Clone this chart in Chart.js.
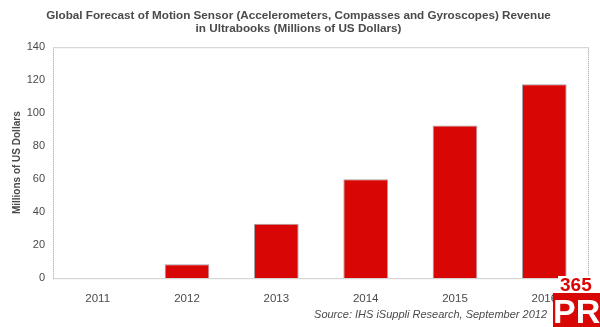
<!DOCTYPE html>
<html>
<head>
<meta charset="utf-8">
<script src="https://cdn.jsdelivr.net/npm/chart.js@4/dist/chart.umd.min.js"></script>
<style>
  html, body { margin: 0; padding: 0; background: #fff; }
  #wrap { position: relative; width: 600px; height: 327px; }
  #logo {
    position: absolute; left: 553px; top: 276px; width: 47px; height: 51px;
    font-family: "Liberation Sans", Arial, sans-serif; font-weight: bold;
  }
  #logo .n { position: absolute; left: 5px; top: 0; color: #d90606; font-size: 19px; line-height: 18px; background: #fff; padding: 0 2px; }
  #logo .p { position: absolute; left: 0; top: 17px; width: 47px; height: 34px; background: #d90606; color: #fff; font-size: 34px; line-height: 36px; text-align: center; }
</style>
</head>
<body>
<div id="wrap">
  <canvas id="c" width="600" height="327"></canvas>
  <div id="logo"><span class="n">365</span><div class="p">PR</div></div>
</div>
<script>
const years = ['2011', '2012', '2013', '2014', '2015', '2016'];
const revenue = [0, 8.4, 33, 60, 92.5, 117.5];
const yTicks = [0, 20, 40, 60, 80, 100, 120, 140];
const source = 'Source: IHS iSuppli Research, September 2012';

const FONT = '"Liberation Sans", Arial, sans-serif';

// dotted frame round the plot area plus the source line under the axis
const frame = {
  id: 'frame',
  afterDatasetsDraw(chart) {
    const a = chart.chartArea;
    const ctx = chart.ctx;
    ctx.save();
    ctx.strokeStyle = '#9a9a9a';
    ctx.lineWidth = 1;
    ctx.setLineDash([1, 1]);
    ctx.strokeRect(a.left + 0.5, a.top + 0.5, a.right - a.left - 1, a.bottom - a.top);
    ctx.setLineDash([]);
    ctx.font = 'italic 11px ' + FONT;
    ctx.fillStyle = '#4a4a4a';
    ctx.textAlign = 'right';
    ctx.textBaseline = 'middle';
    ctx.fillText(source, a.right - 42, a.bottom + 37);
    ctx.restore();
  }
};

Chart.defaults.font.family = FONT;
Chart.defaults.color = '#4a4a4a';

new Chart(document.getElementById('c').getContext('2d'), {
  type: 'bar',
  data: {
    labels: years,
    datasets: [{
      data: revenue,
      backgroundColor: '#d90606',
      borderColor: '#a8a0a8',
      borderWidth: { left: 1, right: 1, top: 1, bottom: 0 },
      categoryPercentage: 1,
      barPercentage: 0.5
    }]
  },
  options: {
    responsive: false,
    animation: false,
    layout: { padding: { left: 8, right: 11, top: 0, bottom: 15 } },
    plugins: {
      legend: { display: false },
      tooltip: { enabled: false },
      title: {
        display: true,
        text: ['Global Forecast of Motion Sensor (Accelerometers, Compasses and Gyroscopes) Revenue',
               'in Ultrabooks (Millions of US Dollars)'],
        font: { size: 11.7, weight: 'bold', lineHeight: 1.12 },
        color: '#4a4a4a',
        padding: { top: 9, bottom: 12 }
      }
    },
    scales: {
      x: {
        grid: { display: false },
        border: { display: false },
        ticks: { font: { size: 11.5 }, padding: 6 }
      },
      y: {
        min: 0,
        max: 140,
        afterBuildTicks(scale) { scale.ticks = yTicks.map(v => ({ value: v })); },
        afterFit(scale) { scale.width = 45; },
        grid: { display: false, drawTicks: false },
        border: { display: false },
        ticks: { font: { size: 11 }, padding: 8 },
        title: {
          display: true,
          text: 'Millions of US Dollars',
          font: { size: 10, weight: 'bold' },
          color: '#4a4a4a',
          padding: { top: 3, bottom: 0 }
        }
      }
    }
  },
  plugins: [frame]
});
</script>
</body>
</html>
